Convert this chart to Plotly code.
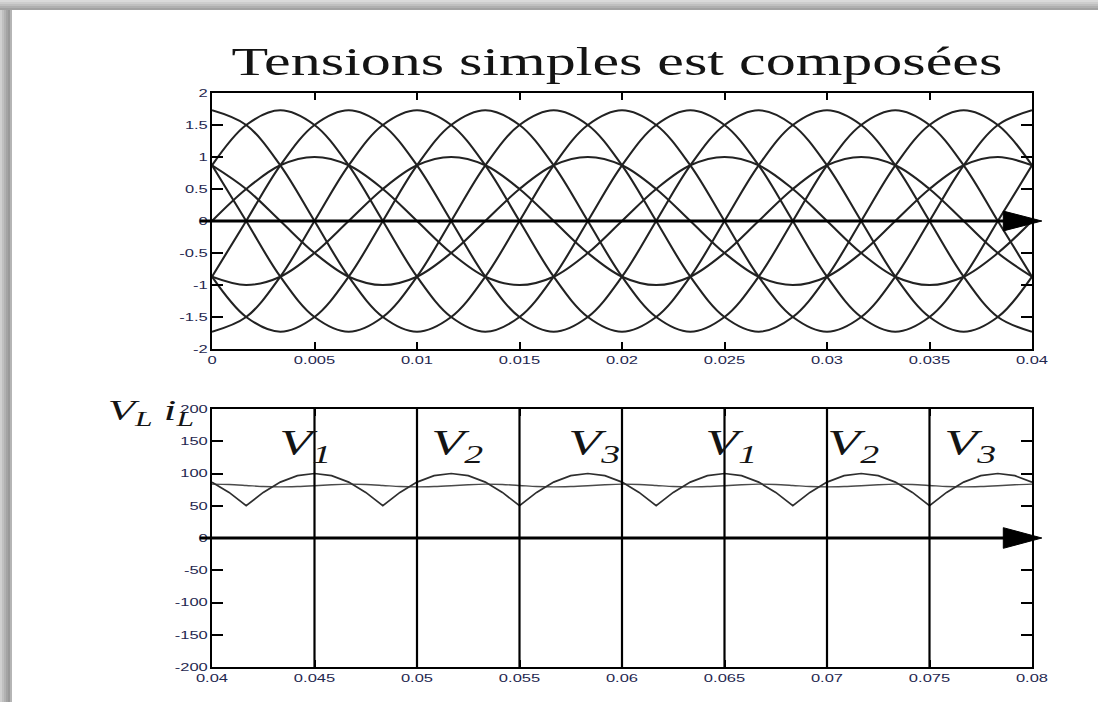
import plotly.graph_objects as go

# ---------------------------------------------------------------------------
# Upper panel: phase voltages (p.u.) and line-to-line voltages, 50 Hz,
# sampled every 1/600 s (30 electrical degrees) from 0 to 0.04 s.
# ---------------------------------------------------------------------------
T_STEP_TOP = 1 / 600
t_top = [round(k * T_STEP_TOP, 6) for k in range(25)]

va = [0, .5, .87, 1, .87, .5, 0, -.5, -.87, -1, -.87, -.5,
      0, .5, .87, 1, .87, .5, 0, -.5, -.87, -1, -.87, -.5, 0]
vb = [-.87, -1, -.87, -.5, 0, .5, .87, 1, .87, .5, 0, -.5,
      -.87, -1, -.87, -.5, 0, .5, .87, 1, .87, .5, 0, -.5, -.87]
vc = [.87, .5, 0, -.5, -.87, -1, -.87, -.5, 0, .5, .87, 1,
      .87, .5, 0, -.5, -.87, -1, -.87, -.5, 0, .5, .87, 1, .87]

u_ab = [.87, 1.5, 1.73, 1.5, .87, 0, -.87, -1.5, -1.73, -1.5, -.87, 0,
        .87, 1.5, 1.73, 1.5, .87, 0, -.87, -1.5, -1.73, -1.5, -.87, 0, .87]
u_cb = [1.73, 1.5, .87, 0, -.87, -1.5, -1.73, -1.5, -.87, 0, .87, 1.5,
        1.73, 1.5, .87, 0, -.87, -1.5, -1.73, -1.5, -.87, 0, .87, 1.5, 1.73]
u_ca = [.87, 0, -.87, -1.5, -1.73, -1.5, -.87, 0, .87, 1.5, 1.73, 1.5,
        .87, 0, -.87, -1.5, -1.73, -1.5, -.87, 0, .87, 1.5, 1.73, 1.5, .87]
u_ba = [-.87, -1.5, -1.73, -1.5, -.87, 0, .87, 1.5, 1.73, 1.5, .87, 0,
        -.87, -1.5, -1.73, -1.5, -.87, 0, .87, 1.5, 1.73, 1.5, .87, 0, -.87]
u_bc = [-1.73, -1.5, -.87, 0, .87, 1.5, 1.73, 1.5, .87, 0, -.87, -1.5,
        -1.73, -1.5, -.87, 0, .87, 1.5, 1.73, 1.5, .87, 0, -.87, -1.5, -1.73]
u_ac = [-.87, 0, .87, 1.5, 1.73, 1.5, .87, 0, -.87, -1.5, -1.73, -1.5,
        -.87, 0, .87, 1.5, 1.73, 1.5, .87, 0, -.87, -1.5, -1.73, -1.5, -.87]

top_series = [va, vb, vc, u_ab, u_cb, u_ca, u_ba, u_bc, u_ac]

# ---------------------------------------------------------------------------
# Lower panel: rectified load voltage V_L and load current i_L,
# sampled every 1/1200 s (15 electrical degrees) from 0.04 to 0.08 s.
# ---------------------------------------------------------------------------
T0_BOT = 0.04
T_STEP_BOT = 1 / 1200
t_bot = [round(T0_BOT + k * T_STEP_BOT, 6) for k in range(49)]

v_load = [86.6, 70.7, 50, 70.7, 86.6, 96.6, 100, 96.6,
          86.6, 70.7, 50, 70.7, 86.6, 96.6, 100, 96.6,
          86.6, 70.7, 50, 70.7, 86.6, 96.6, 100, 96.6,
          86.6, 70.7, 50, 70.7, 86.6, 96.6, 100, 96.6,
          86.6, 70.7, 50, 70.7, 86.6, 96.6, 100, 96.6,
          86.6, 70.7, 50, 70.7, 86.6, 96.6, 100, 96.6,
          86.6]
i_load = [83.5, 83.0, 81.5, 79.8, 79.2, 79.8, 81.0, 82.5,
          83.5, 83.0, 81.5, 79.8, 79.2, 79.8, 81.0, 82.5,
          83.5, 83.0, 81.5, 79.8, 79.2, 79.8, 81.0, 82.5,
          83.5, 83.0, 81.5, 79.8, 79.2, 79.8, 81.0, 82.5,
          83.5, 83.0, 81.5, 79.8, 79.2, 79.8, 81.0, 82.5,
          83.5, 83.0, 81.5, 79.8, 79.2, 79.8, 81.0, 82.5,
          83.5]

# conduction boundaries and the conducting phase in each interval
switch_times = [0.045, 0.05, 0.055, 0.06, 0.065, 0.07, 0.075]
phase_labels = ["1", "2", "3", "1", "2", "3"]
phase_label_x = [0.04454, 0.05196, 0.05868, 0.06532, 0.07127, 0.07698]
PHASE_LABEL_Y = 143

# axis ticks
top_xticks = [0, 0.005, 0.01, 0.015, 0.02, 0.025, 0.03, 0.035, 0.04]
top_xtext = ["0", "0.005", "0.01", "0.015", "0.02", "0.025", "0.03", "0.035", "0.04"]
top_yticks = [-2, -1.5, -1, -0.5, 0, 0.5, 1, 1.5, 2]
top_ytext = ["-2", "-1.5", "-1", "-0.5", "0", "0.5", "1", "1.5", "2"]
bot_xticks = [0.04, 0.045, 0.05, 0.055, 0.06, 0.065, 0.07, 0.075, 0.08]
bot_xtext = ["0.04", "0.045", "0.05", "0.055", "0.06", "0.065", "0.07", "0.075", "0.08"]
bot_yticks = [-200, -150, -100, -50, 0, 50, 100, 150, 200]
bot_ytext = ["-200", "-150", "-100", "-50", "0", "50", "100", "150", "200"]

TITLE = "Tensions simples est composées"

# ---------------------------------------------------------------------------
W, H = 1098, 702
SERIF = "Liberation Serif, Times New Roman, serif"
SANS = "Liberation Sans, Arial, sans-serif"
TICK_COLOR = "#1f2850"


def px_x(p):
    return p / W


def px_y(p):
    return 1 - p / H


fig = go.Figure()

for ys in top_series:
    fig.add_trace(go.Scatter(
        x=t_top, y=ys, mode="lines", xaxis="x", yaxis="y",
        line=dict(color="#222222", width=2.1, shape="spline", smoothing=1.0),
        hoverinfo="skip", showlegend=False))

fig.add_trace(go.Scatter(
    x=t_bot, y=i_load, mode="lines", xaxis="x2", yaxis="y2",
    line=dict(color="#4a4a4a", width=1.4, shape="spline", smoothing=0.8),
    hoverinfo="skip", showlegend=False))
fig.add_trace(go.Scatter(
    x=t_bot, y=v_load, mode="lines", xaxis="x2", yaxis="y2",
    line=dict(color="#2e2e2e", width=1.7),
    hoverinfo="skip", showlegend=False))

axis_common = dict(
    showline=True, linecolor="black", linewidth=2, mirror="ticks",
    ticks="inside", tickcolor="black", tickwidth=1.6,
    showgrid=False, zeroline=False, automargin=False,
    tickfont=dict(family=SANS, size=11, color=TICK_COLOR),
)

dom_x = [px_x(212), px_x(1032)]
fig.update_layout(
    width=W, height=H,
    margin=dict(l=0, r=0, t=0, b=0, pad=0, autoexpand=False),
    paper_bgcolor="white", plot_bgcolor="white",
    xaxis=dict(domain=dom_x, range=[0, 0.04], anchor="y",
               tickvals=top_xticks, ticktext=top_xtext, ticklen=7, **axis_common),
    yaxis=dict(domain=[px_y(349), px_y(93)], range=[-2, 2], anchor="x",
               tickvals=top_yticks, ticktext=top_ytext, ticklen=11, **axis_common),
    xaxis2=dict(domain=dom_x, range=[0.04, 0.08], anchor="y2",
                tickvals=bot_xticks, ticktext=bot_xtext, ticklen=7, **axis_common),
    yaxis2=dict(domain=[px_y(667), px_y(409)], range=[-200, 200], anchor="x2",
                tickvals=bot_yticks, ticktext=bot_ytext, ticklen=11, **axis_common),
)

shapes = []

# page frame: shaded strips along the left and top edges
left_strip = ["#d0d0d0", "#c0c0c0", "#b2b2b2", "#a4a4a4", "#999999", "#b5b5b5"]
for i, c in enumerate(left_strip):
    shapes.append(dict(type="rect", xref="paper", yref="paper", layer="above",
                       x0=px_x(2 * i), x1=px_x(2 * i + 2), y0=0, y1=1,
                       fillcolor=c, line=dict(width=0)))
top_strip = ["#dadada", "#cdcdcd", "#bfbfbf", "#b0b0b0", "#a2a2a2"]
for i, c in enumerate(top_strip):
    shapes.append(dict(type="rect", xref="paper", yref="paper", layer="above",
                       x0=0, x1=1, y0=px_y(2 * i + 2), y1=px_y(2 * i),
                       fillcolor=c, line=dict(width=0)))

# conduction boundaries in the lower panel
for ts in switch_times:
    shapes.append(dict(type="line", xref="x2", yref="y2 domain",
                       x0=ts, x1=ts, y0=0, y1=1,
                       line=dict(color="black", width=2.2)))

# time arrows drawn along the zero level of both panels
for xr, yr, half_h in (("x domain", "y", 0.155), ("x2 domain", "y2", 16)):
    shapes.append(dict(type="line", xref=xr, yref=yr, x0=-0.015, x1=0.975,
                       y0=0, y1=0, line=dict(color="black", width=3.2)))
    shapes.append(dict(type="path", xref=xr, yref=yr,
                       path=f"M 0.965,{-half_h} L 1.012,0 L 0.965,{half_h} Z",
                       fillcolor="black", line=dict(color="black", width=1)))

annotations = [
    dict(text=TITLE, xref="paper", yref="paper", x=px_x(617), y=px_y(62),
         xanchor="center", yanchor="middle", showarrow=False,
         font=dict(family=SERIF, size=40, color="#141414")),
    dict(text="<i>V<sub>L</sub> i<sub>L</sub></i>", xref="paper", yref="paper",
         x=px_x(151), y=px_y(412), xanchor="center", yanchor="middle",
         showarrow=False, font=dict(family=SERIF, size=30, color="#141414")),
]
for lab, lx in zip(phase_labels, phase_label_x):
    annotations.append(dict(
        text=f"<i>V<sub>{lab}</sub></i>", xref="x2", yref="y2",
        x=lx, y=PHASE_LABEL_Y, xanchor="center", yanchor="middle",
        showarrow=False, font=dict(family=SERIF, size=36, color="#141414")))

fig.update_layout(shapes=shapes, annotations=annotations)

# the lettering is set wide: widen every text run horizontally in place
WIDEN_JS = """
(function(){
  var gd = document.getElementById('{plot_id}');
  var SX = 1.5;
  function widen(){
    gd.querySelectorAll('svg text').forEach(function(el){
      if (el.getAttribute('data-wide')) return;
      var w = el.getComputedTextLength();
      if (!w) return;
      el.setAttribute('textLength', (w * SX).toFixed(1));
      el.setAttribute('lengthAdjust', 'spacingAndGlyphs');
      el.setAttribute('data-wide', '1');
    });
  }
  widen();
})();
"""

fig.write_html("out.html", post_script=WIDEN_JS)
